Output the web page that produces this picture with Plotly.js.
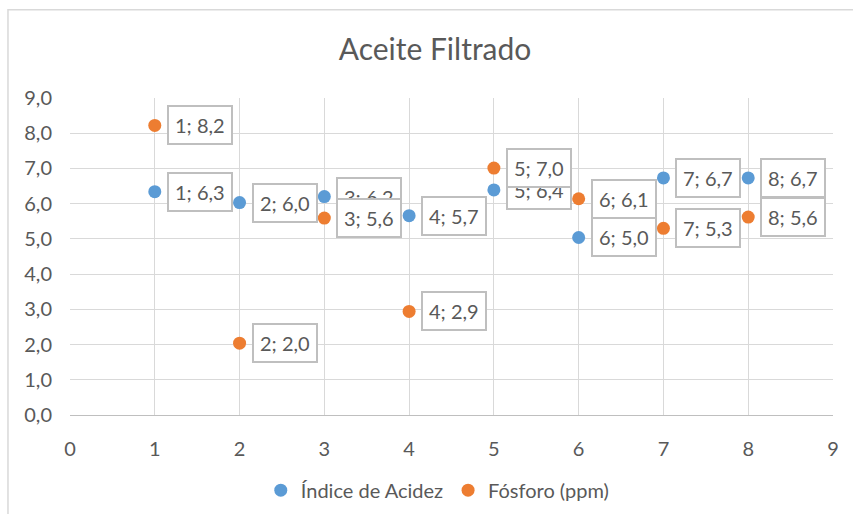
<!DOCTYPE html>
<html><head><meta charset="utf-8">
<script src="https://cdn.plot.ly/plotly-3.0.1.min.js"></script>
<style>html,body{margin:0;padding:0;background:#fff}#chart{width:853px;height:514px}</style>
</head><body><div id="chart"></div>
<script>
const xValues = [1, 2, 3, 4, 5, 6, 7, 8];
const acidez = [6.34, 6.03, 6.20, 5.66, 6.39, 5.04, 6.73, 6.73];
const fosforo = [8.22, 2.04, 5.59, 2.94, 7.01, 6.14, 5.30, 5.62];
const seriesNames = ["Índice de Acidez", "Fósforo (ppm)"];
const colors = ["#5b9bd5", "#ed7d31"];

const fmt = v => v.toFixed(1).replace('.', ',');
const font = "Lato, 'Open Sans', sans-serif";
const textColor = "#595959";

const traces = [acidez, fosforo].map((ys, i) => ({
  type: 'scatter', mode: 'markers', x: xValues, y: ys, name: seriesNames[i],
  marker: {color: colors[i], size: 13}, hoverinfo: 'skip'
}));

const annotations = [];
[acidez, fosforo].forEach(ys => {
  ys.forEach((y, j) => {
    annotations.push({
      x: xValues[j], y: y, xref: 'x', yref: 'y', text: xValues[j] + '; ' + fmt(y),
      showarrow: false, xanchor: 'left', yanchor: 'middle', xshift: 12,
      bgcolor: '#ffffff', bordercolor: '#bfbfbf', borderwidth: 2, borderpad: 6,
      font: {family: font, size: 20, color: textColor}
    });
  });
});

const layout = {
  width: 853, height: 514,
  margin: {l: 70, r: 20, t: 98, b: 99, autoexpand: false},
  paper_bgcolor: '#ffffff', plot_bgcolor: '#ffffff',
  font: {family: font, color: textColor, size: 20},
  title: {text: 'Aceite Filtrado', font: {family: font, size: 30, color: textColor},
          x: 0.51, xref: 'container', y: 0.903, yref: 'container', xanchor: 'center', yanchor: 'middle'},
  xaxis: {range: [0, 9], dtick: 1, tick0: 0, showgrid: true, gridcolor: '#d9d9d9', gridwidth: 1,
          zeroline: false, showline: true, linecolor: '#bfbfbf', linewidth: 1, ticks: '',
          ticklabelstandoff: 16, tickfont: {family: font, size: 20, color: textColor}, fixedrange: true},
  yaxis: {range: [0, 9], dtick: 1, tick0: 0, tickformat: '.1f', showgrid: true, gridcolor: '#d9d9d9', gridwidth: 1,
          zeroline: false, showline: false, ticks: '', ticklabelstandoff: 17,
          tickfont: {family: font, size: 20, color: textColor}, fixedrange: true},
  separators: ',.',
  showlegend: true,
  legend: {orientation: 'h', x: 0.482, xanchor: 'center', y: -0.237, yanchor: 'middle',
           font: {family: font, size: 20, color: textColor}, itemwidth: 20, tracegroupgap: 0},
  annotations: annotations,
  shapes: [{type: 'rect', xref: 'paper', yref: 'paper', x0: -0.0813, x1: 2, y0: -1, y1: 1.278,
            line: {color: '#d9d9d9', width: 1.5}, fillcolor: 'rgba(0,0,0,0)', layer: 'below'}]
};

Plotly.newPlot('chart', traces, layout, {displayModeBar: false, staticPlot: true});
</script></body></html>
